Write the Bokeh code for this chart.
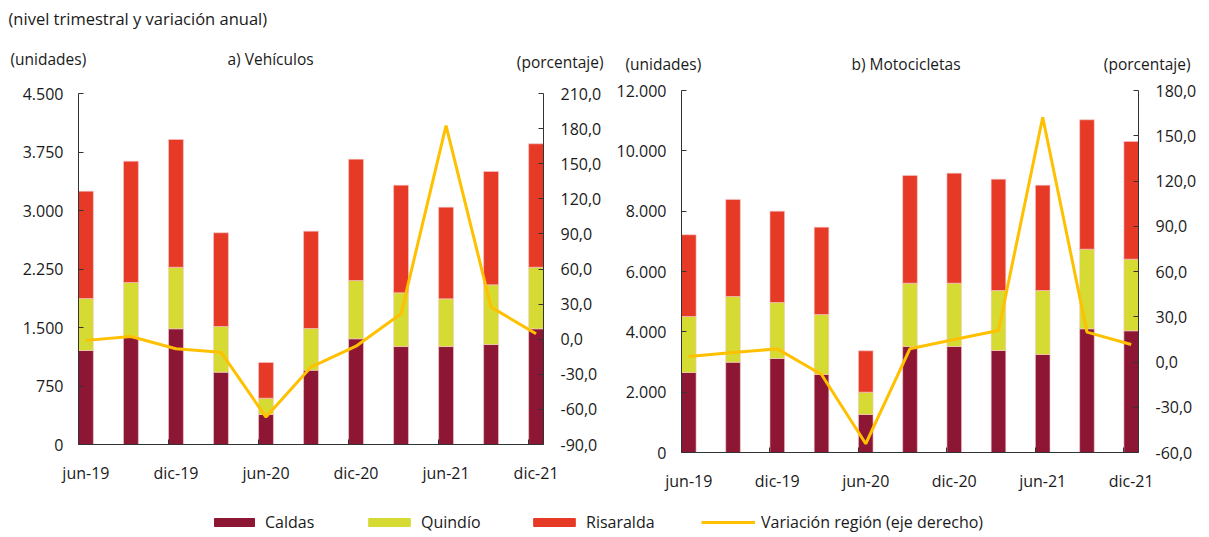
import numpy as np
from bokeh.plotting import figure
from bokeh.models import (Range1d, LinearAxis, FixedTicker, Label, Legend,
                          LegendItem, ColumnDataSource)
from bokeh.layouts import row, column
from bokeh.embed import file_html
from bokeh.resources import INLINE

# ---------------- data ----------------
quarters = ["jun-19", "sep-19", "dic-19", "mar-20", "jun-20", "sep-20",
            "dic-20", "mar-21", "jun-21", "sep-21", "dic-21"]
series_names = ["Caldas", "Quindío", "Risaralda"]
line_name = "Variación región (eje derecho)"

veh_caldas = [1205, 1385, 1483, 927, 385, 953, 1355, 1256, 1256, 1282, 1483]
veh_quindio = [667, 692, 790, 586, 209, 534, 747, 689, 612, 765, 790]
veh_risaralda = [1375, 1555, 1637, 1201, 457, 1248, 1556, 1380, 1175, 1453, 1582]
veh_var = [-1.0, 2.3, -8.2, -11.1, -66.6, -23.8, -6.0, 21.7, 182.6, 27.4, 4.6]

moto_caldas = [2652, 2994, 3116, 2586, 1260, 3514, 3514, 3381, 3249, 4100, 4034]
moto_quindio = [1856, 2177, 1856, 1989, 740, 2099, 2099, 1989, 2121, 2640, 2375]
moto_risaralda = [2708, 3216, 3028, 2895, 1370, 3570, 3647, 3691, 3492, 4289, 3901]
moto_var = [3.6, 6.3, 8.7, -8.3, -54.2, 8.8, 14.9, 20.9, 162.3, 19.8, 11.6]

veh_left_ticks = [0, 750, 1500, 2250, 3000, 3750, 4500]
veh_right_ticks = [-90, -60, -30, 0, 30, 60, 90, 120, 150, 180, 210]
moto_left_ticks = [0, 2000, 4000, 6000, 8000, 10000, 12000]
moto_right_ticks = [-60, -30, 0, 30, 60, 90, 120, 150, 180]

# ---------------- style ----------------
COLORS = ["#8C1634", "#D5DB32", "#E63926"]
LINE_COLOR = "#FFC000"
FONT = "Open Sans"
TXT = "#1a1a1a"
AX = "#333333"
BAR_W = 0.33
PAGE_W = 1209
HEAD_H = 74
CHART_H = 426
LEG_H = 36
TICK_FS = "16px"


def fmt_units(v):
    return f"{v:,}".replace(",", ".")


def fmt_pct(v):
    return f"{v:.1f}".replace(".", ",")


def make_chart(caldas, quindio, risaralda, var, lticks, rticks, width, height,
               borders):
    bl, br, bt, bb = borders
    n = len(quarters)
    x0, x1 = -BAR_W / 2, n - 1 + BAR_W / 2
    p = figure(width=width, height=height, output_backend="svg",
               toolbar_location=None, x_range=Range1d(x0, x1),
               y_range=Range1d(lticks[0], lticks[-1]),
               min_border_left=bl, min_border_right=br,
               min_border_top=bt, min_border_bottom=bb)
    p.extra_y_ranges = {"pct": Range1d(rticks[0], rticks[-1])}
    p.outline_line_color = None
    p.xgrid.visible = False
    p.ygrid.visible = False
    p.background_fill_color = "white"
    p.border_fill_color = "white"

    src = ColumnDataSource(dict(x=list(range(n)), Caldas=caldas,
                                Quindio=quindio, Risaralda=risaralda,
                                var=var))
    p.vbar_stack(["Caldas", "Quindio", "Risaralda"], x="x", width=BAR_W,
                 source=src, color=COLORS, line_color="#f3c9c9",
                 line_width=0.6)
    p.line("x", "var", source=src, y_range_name="pct", color=LINE_COLOR,
           line_width=3)

    # x axis
    xa = p.xaxis[0]
    major = list(range(0, n, 2))
    xa.ticker = FixedTicker(ticks=major,
                            minor_ticks=[x0] + [m - BAR_W / 2 for m in major[1:]])
    xa.major_label_overrides = {m: quarters[m] for m in major}
    xa.major_tick_line_color = None
    xa.major_tick_in = 0
    xa.major_tick_out = 0
    xa.minor_tick_in = 5
    xa.minor_tick_out = 0
    xa.minor_tick_line_color = AX
    xa.axis_line_color = AX
    xa.major_label_standoff = 17
    xa.major_label_text_font = FONT
    xa.major_label_text_font_size = TICK_FS
    xa.major_label_text_color = TXT

    # left axis
    ya = p.yaxis[0]
    ya.ticker = FixedTicker(ticks=lticks)
    ya.major_label_overrides = {v: fmt_units(v) for v in lticks}
    ya.minor_tick_line_color = None
    ya.major_tick_in = 5
    ya.major_tick_out = 0
    ya.axis_line_color = AX
    ya.major_tick_line_color = AX
    ya.major_label_standoff = 15
    ya.major_label_text_font = FONT
    ya.major_label_text_font_size = TICK_FS
    ya.major_label_text_color = TXT

    # right axis
    ra = LinearAxis(y_range_name="pct", ticker=FixedTicker(ticks=rticks))
    ra.major_label_overrides = {v: fmt_pct(v) for v in rticks}
    ra.minor_tick_line_color = None
    ra.major_tick_in = 5
    ra.major_tick_out = 0
    ra.axis_line_color = AX
    ra.major_tick_line_color = AX
    ra.major_label_standoff = 17
    ra.major_label_text_font = FONT
    ra.major_label_text_font_size = TICK_FS
    ra.major_label_text_color = TXT
    p.add_layout(ra, "right")
    return p


# ---- header strip with the titles (page pixels, y downwards) ----
head = figure(width=PAGE_W, height=HEAD_H, output_backend="svg",
              toolbar_location=None, x_range=Range1d(0, PAGE_W),
              y_range=Range1d(HEAD_H, 0), min_border=0)
head.axis.visible = False
head.xgrid.visible = False
head.ygrid.visible = False
head.outline_line_color = None
header_texts = [
    (8, 18, "(nivel trimestral y variación anual)", "left", "16.5px"),
    (10, 58, "(unidades)", "left", "15.5px"),
    (227, 58, "a) Vehículos", "left", "15.5px"),
    (603, 61, "(porcentaje)", "right", "15.5px"),
    (625, 63, "(unidades)", "left", "15.5px"),
    (851, 63, "b) Motocicletas", "left", "15.5px"),
    (1190, 63, "(porcentaje)", "right", "15.5px"),
]
for (tx, ty, txt, align, fs) in header_texts:
    head.add_layout(Label(x=tx, y=ty, text=txt, text_align=align,
                          text_baseline="middle", text_font=FONT,
                          text_font_size=fs, text_color=TXT))

# chart a) frame: page x 78..543, y 93..444
p1 = make_chart(veh_caldas, veh_quindio, veh_risaralda, veh_var,
                veh_left_ticks, veh_right_ticks, 613, CHART_H,
                (78, 70, 93 - HEAD_H, HEAD_H + CHART_H - 444))
# chart b) frame: page x 681..1138, y 90..452
p2 = make_chart(moto_caldas, moto_quindio, moto_risaralda, moto_var,
                moto_left_ticks, moto_right_ticks, 595, CHART_H,
                (68, 70, 90 - HEAD_H, HEAD_H + CHART_H - 452))

# ---- legend strip ----
pl = figure(width=PAGE_W, height=LEG_H, output_backend="svg",
            toolbar_location=None, x_range=Range1d(0, 1), y_range=Range1d(0, 1),
            min_border=0)
pl.axis.visible = False
pl.xgrid.visible = False
pl.ygrid.visible = False
pl.outline_line_color = None
# legend-only renderers: one row without drawable values
blank = ColumnDataSource(dict(x=np.array([np.nan]), y=np.array([np.nan])))
rends = [pl.vbar(x="x", top="y", width=0.1, source=blank, color=c)
         for c in COLORS]
rends.append(pl.line(x="x", y="y", source=blank, color=LINE_COLOR,
                     line_width=3))

leg_x = [209, 363, 528, 701]
leg_gw = [50, 52, 52, 54]
labels = series_names + [line_name]
leg_top_page = HEAD_H + CHART_H
center_from_bottom = LEG_H - (524 - leg_top_page)
for r, lab, x, w in zip(rends, labels, leg_x, leg_gw):
    lg = Legend(items=[LegendItem(label=lab, renderers=[r])],
                location=(x, center_from_bottom - 9), orientation="horizontal",
                padding=0, margin=0, spacing=0, border_line_color=None,
                background_fill_alpha=0, glyph_width=w, glyph_height=10,
                label_standoff=6, label_height=18,
                label_text_font=FONT, label_text_font_size="16px",
                label_text_color=TXT, label_text_baseline="middle")
    pl.add_layout(lg, "center")

layout = column(head, row(column(p1), column(p2)), pl)
open("out.html", "w").write(file_html(layout, INLINE))
